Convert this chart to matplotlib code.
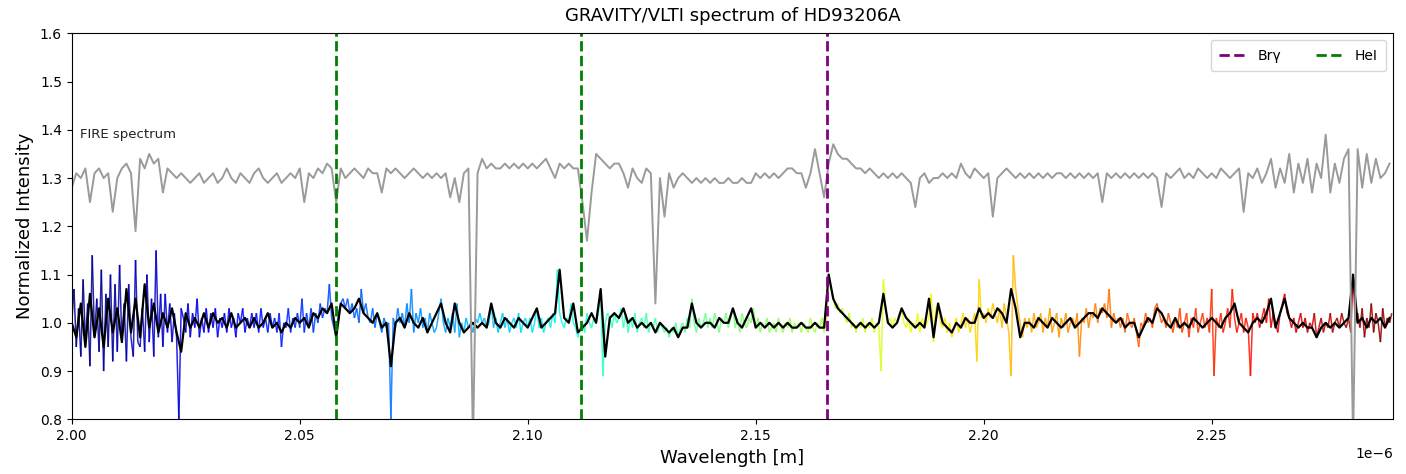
import numpy as np
import matplotlib.pyplot as plt
from matplotlib.collections import LineCollection
from matplotlib.colors import Normalize
from matplotlib.lines import Line2D

# GRAVITY spectrum, raw, one value every 0.5 nm starting at 2.000 um
grav_raw = [
    1.00, 1.07, 0.95, 1.03, 0.93, 1.09, 0.96, 1.04, 0.91, 1.14, 0.97, 1.05, 0.94, 1.11, 0.90, 1.06, 0.95, 1.10, 0.92, 1.08,
    0.94, 1.12, 0.96, 1.04, 0.92, 1.08, 0.97, 0.93, 1.13, 0.96, 0.95, 1.03, 0.94, 1.10, 0.96, 1.05, 0.93, 1.15, 0.97, 1.06,
    0.95, 1.06, 0.98, 1.04, 0.96, 1.02, 0.97, 0.80, 1.03, 1.01, 0.98, 1.04, 0.97, 1.02, 0.99, 1.05, 0.97, 1.01, 0.98, 1.03,
    0.98, 1.02, 0.99, 1.03, 0.97, 1.01, 0.99, 1.02, 0.98, 1.03, 0.99, 1.01, 0.97, 1.02, 1.00, 1.03, 0.98, 1.01, 0.99, 1.02,
    0.99, 1.02, 0.98, 1.03, 0.99, 1.01, 0.98, 1.02, 0.99, 1.01, 0.98, 1.02, 0.95, 1.00, 0.99, 1.03, 0.98, 1.01, 0.99, 1.02,
    0.99, 1.05, 0.98, 1.02, 0.99, 1.03, 0.98, 1.02, 1.00, 1.04, 1.01, 1.03, 1.02, 1.08, 1.01, 0.99, 0.97, 1.02, 1.04, 1.05,
    1.03, 1.05, 1.02, 1.04, 1.01, 1.03, 1.00, 1.07, 1.02, 1.04, 1.01, 1.00, 1.03, 0.99, 1.02, 1.00, 0.98, 1.01, 0.99, 1.00,
    0.80, 1.01, 0.99, 1.03, 1.00, 1.02, 0.99, 1.04, 1.00, 1.07, 0.98, 1.02, 1.00, 1.03, 0.99, 1.01, 0.98, 1.02, 1.00, 0.98,
    0.99, 1.02, 1.05, 1.00, 0.98, 1.01, 0.99, 1.02, 0.98, 1.04, 0.97, 1.00, 0.98, 1.01, 0.99, 1.00, 0.98, 1.01, 1.00, 1.02,
    1.00, 1.01, 0.99, 1.00, 1.04, 0.99, 1.01, 0.98, 1.00, 1.02, 0.99, 1.01, 0.98, 1.00, 1.01, 0.99, 1.02, 0.98, 1.00, 1.01,
    0.99, 1.01, 0.98, 1.00, 1.03, 0.99, 1.01, 0.98, 1.00, 1.01, 0.99, 1.02, 1.00, 1.11, 1.02, 1.00, 0.99, 1.01, 1.00, 1.04,
    1.00, 0.99, 0.97, 0.99, 1.00, 0.98, 1.02, 1.00, 0.99, 1.01, 1.00, 1.02, 1.07, 0.89, 1.00, 1.02, 1.01, 0.99, 1.02, 1.00,
    1.01, 1.03, 0.99, 1.02, 0.98, 1.01, 0.99, 1.02, 0.98, 1.00, 1.01, 0.99, 1.02, 0.98, 1.00, 0.99, 1.01, 0.98, 1.00, 0.99,
    0.98, 0.99, 0.97, 0.99, 0.98, 1.00, 0.97, 0.99, 1.00, 0.98, 1.01, 0.99, 1.05, 1.00, 0.98, 1.01, 0.99, 1.00, 1.02, 0.99,
    1.01, 0.99, 1.02, 1.00, 0.98, 1.01, 1.00, 1.02, 0.99, 1.01, 1.03, 0.99, 1.01, 0.98, 1.02, 1.00, 0.99, 1.01, 1.00, 1.03,
    0.99, 1.01, 0.98, 1.00, 0.99, 1.01, 0.98, 0.99, 1.00, 0.98, 1.01, 0.99, 0.98, 1.00, 0.99, 1.01, 0.98, 1.00, 0.99, 1.00,
    0.98, 1.00, 0.99, 0.98, 1.01, 0.99, 0.98, 1.00, 0.99, 1.01, 0.98, 1.00, 1.10, 1.07, 1.05, 1.03, 1.04, 1.02, 1.03, 1.01,
    1.00, 1.02, 0.99, 1.00, 0.98, 1.00, 0.99, 1.01, 0.98, 1.00, 0.99, 1.01, 0.98, 1.00, 0.99, 0.90, 1.09, 1.03, 1.00, 1.01,
    0.99, 1.01, 1.00, 1.02, 1.03, 1.00, 0.99, 1.01, 0.98, 1.00, 0.99, 1.02, 0.98, 1.01, 0.99, 1.00, 1.01, 1.06, 0.96, 1.03,
    1.04, 1.00, 0.99, 1.01, 0.98, 1.00, 0.97, 0.99, 1.01, 0.98, 1.00, 1.02, 0.99, 1.01, 0.98, 1.00, 1.02, 0.92, 1.09, 1.01,
    1.02, 1.00, 1.03, 1.01, 1.04, 1.02, 1.00, 1.03, 0.99, 1.04, 1.01, 0.98, 0.89, 1.14, 1.07, 1.03, 1.00, 0.97, 1.01, 0.99,
    1.01, 0.98, 1.02, 0.99, 1.00, 1.02, 0.98, 1.01, 0.99, 1.03, 0.98, 1.00, 1.02, 0.97, 1.01, 0.99, 1.02, 0.98, 1.00, 1.01,
    0.99, 1.02, 0.93, 1.01, 1.00, 1.03, 0.99, 1.02, 1.01, 1.04, 1.00, 1.03, 1.02, 1.04, 1.01, 1.07, 0.99, 1.02, 1.00, 1.01,
    0.99, 1.01, 0.98, 1.02, 1.00, 0.99, 1.01, 0.98, 0.95, 1.00, 0.99, 1.02, 1.00, 1.01, 0.99, 1.03, 1.04, 1.02, 1.00, 1.01,
    0.99, 1.02, 1.00, 0.98, 1.01, 0.99, 1.03, 0.98, 1.00, 1.02, 0.97, 1.01, 0.99, 1.03, 0.98, 1.00, 1.02, 0.99, 1.01, 0.98,
    1.07, 0.89, 1.01, 0.99, 1.02, 0.98, 1.00, 1.03, 0.99, 1.07, 1.01, 0.98, 1.00, 1.02, 0.98, 1.01, 0.99, 0.89, 1.02, 1.00,
    1.02, 0.99, 1.01, 1.03, 1.00, 1.05, 0.99, 1.02, 1.00, 0.98, 1.02, 1.04, 1.06, 1.02, 1.01, 0.99, 1.01, 0.98, 1.00, 1.02,
    0.99, 1.01, 0.98, 1.00, 0.99, 1.02, 0.97, 0.99, 1.01, 0.98, 1.00, 0.99, 1.02, 0.98, 1.00, 1.01, 0.99, 1.02, 1.00, 0.99,
    1.01, 0.98, 1.10, 1.00, 1.02, 0.99, 1.03, 0.97, 1.01, 0.99, 1.04, 0.98, 1.02, 1.00, 0.96, 1.03, 0.99, 1.01, 1.00, 1.02,
]

# GRAVITY spectrum, smoothed, one value every 1 nm
grav_smooth = [
    1.00, 0.97, 1.04, 0.95, 1.06, 0.97, 1.03, 0.95, 1.05, 0.98,
    1.03, 0.96, 1.07, 0.98, 1.05, 0.97, 1.08, 0.99, 1.04, 0.98,
    1.02, 0.99, 1.03, 0.98, 0.94, 1.02, 0.99, 1.01, 0.99, 1.02,
    0.99, 1.02, 1.00, 1.01, 0.99, 1.02, 0.99, 1.00, 1.01, 0.99,
    1.01, 0.99, 1.00, 1.02, 0.99, 1.00, 0.98, 1.00, 0.99, 1.01,
    1.00, 1.01, 0.99, 1.02, 1.01, 1.03, 1.02, 1.04, 0.97, 1.04,
    1.03, 1.02, 1.03, 1.05, 1.02, 1.01, 1.00, 1.02, 0.99, 1.00,
    0.91, 1.00, 1.01, 0.99, 1.02, 1.00, 0.99, 1.01, 0.98, 1.00,
    1.02, 1.04, 1.00, 0.98, 1.04, 1.00, 0.98, 0.99, 1.00, 0.99,
    1.00, 0.99, 1.04, 1.00, 0.99, 1.01, 1.00, 0.99, 1.01, 1.00,
    0.99, 1.01, 1.03, 0.99, 1.00, 1.01, 1.02, 1.11, 1.01, 1.00,
    1.04, 0.98, 0.99, 1.00, 1.02, 1.00, 1.07, 0.93, 1.01, 1.02,
    1.01, 1.03, 1.00, 1.01, 0.99, 1.00, 0.99, 1.00, 0.98, 1.00,
    0.99, 0.98, 0.99, 0.97, 0.99, 0.99, 1.04, 1.00, 0.99, 1.00,
    1.00, 0.99, 1.01, 1.00, 1.00, 1.03, 1.00, 0.99, 1.01, 1.03,
    0.99, 1.00, 0.99, 1.00, 0.99, 1.00, 0.99, 1.00, 0.99, 0.99,
    1.00, 0.99, 0.99, 1.00, 0.99, 0.99, 1.10, 1.05, 1.03, 1.02,
    1.01, 1.00, 0.99, 1.00, 0.99, 1.00, 0.99, 1.00, 1.06, 1.00,
    0.99, 1.00, 1.03, 1.01, 1.00, 0.99, 1.00, 0.99, 1.05, 0.97,
    1.04, 1.00, 0.99, 0.98, 1.00, 0.99, 1.01, 1.00, 1.00, 1.03,
    1.01, 1.02, 1.01, 1.03, 1.02, 1.00, 1.07, 1.03, 0.97, 1.00,
    1.00, 0.99, 1.01, 1.00, 0.99, 1.01, 1.00, 0.99, 1.00, 1.01,
    0.99, 1.00, 1.01, 1.02, 1.02, 1.01, 1.03, 1.02, 1.01, 1.00,
    1.01, 0.99, 1.00, 1.00, 0.97, 0.99, 1.01, 1.00, 1.03, 1.02,
    1.00, 0.99, 1.01, 0.99, 1.00, 0.99, 1.01, 1.00, 0.99, 1.00,
    1.01, 1.00, 0.99, 1.01, 1.02, 1.04, 1.00, 0.99, 0.98, 1.00,
    1.01, 1.00, 1.02, 1.05, 0.99, 1.02, 1.05, 1.01, 1.00, 0.99,
    1.00, 0.99, 0.99, 0.97, 0.99, 1.00, 0.99, 1.00, 0.99, 1.00,
    1.01, 1.10, 1.00, 1.01, 0.99, 1.01, 1.00, 1.01, 0.99, 1.01,
]

# FIRE spectrum (already shifted by +0.3), one value every 1 nm
fire = [
    1.28, 1.31, 1.30, 1.32, 1.25, 1.31, 1.32, 1.30, 1.31, 1.23,
    1.30, 1.32, 1.33, 1.31, 1.19, 1.34, 1.32, 1.35, 1.33, 1.34,
    1.27, 1.32, 1.31, 1.30, 1.31, 1.30, 1.29, 1.30, 1.31, 1.29,
    1.30, 1.31, 1.29, 1.30, 1.32, 1.30, 1.29, 1.31, 1.30, 1.29,
    1.31, 1.32, 1.30, 1.29, 1.30, 1.31, 1.29, 1.30, 1.31, 1.30,
    1.32, 1.25, 1.31, 1.30, 1.32, 1.31, 1.33, 1.32, 1.25, 1.32,
    1.30, 1.31, 1.32, 1.31, 1.30, 1.32, 1.31, 1.31, 1.27, 1.32,
    1.31, 1.32, 1.31, 1.30, 1.31, 1.32, 1.31, 1.30, 1.31, 1.30,
    1.31, 1.30, 1.31, 1.26, 1.30, 1.25, 1.31, 1.32, 0.75, 1.31,
    1.34, 1.32, 1.33, 1.32, 1.32, 1.33, 1.32, 1.33, 1.32, 1.33,
    1.32, 1.33, 1.32, 1.33, 1.34, 1.32, 1.30, 1.33, 1.32, 1.33,
    1.32, 1.32, 1.25, 1.17, 1.27, 1.35, 1.34, 1.33, 1.32, 1.33,
    1.33, 1.31, 1.28, 1.32, 1.30, 1.29, 1.32, 1.31, 1.04, 1.30,
    1.22, 1.31, 1.28, 1.30, 1.31, 1.30, 1.29, 1.30, 1.29, 1.30,
    1.29, 1.30, 1.29, 1.29, 1.30, 1.29, 1.29, 1.30, 1.29, 1.29,
    1.31, 1.30, 1.31, 1.30, 1.31, 1.30, 1.31, 1.32, 1.32, 1.31,
    1.31, 1.28, 1.31, 1.36, 1.31, 1.26, 1.33, 1.37, 1.35, 1.34,
    1.34, 1.33, 1.32, 1.32, 1.31, 1.32, 1.31, 1.30, 1.31, 1.30,
    1.31, 1.30, 1.31, 1.30, 1.29, 1.24, 1.30, 1.31, 1.29, 1.30,
    1.30, 1.31, 1.30, 1.31, 1.30, 1.33, 1.31, 1.30, 1.32, 1.31,
    1.30, 1.31, 1.22, 1.30, 1.31, 1.32, 1.31, 1.30, 1.31, 1.30,
    1.31, 1.30, 1.31, 1.30, 1.31, 1.30, 1.31, 1.31, 1.30, 1.31,
    1.30, 1.31, 1.30, 1.31, 1.30, 1.31, 1.25, 1.31, 1.30, 1.31,
    1.30, 1.31, 1.30, 1.31, 1.30, 1.31, 1.30, 1.31, 1.30, 1.24,
    1.31, 1.30, 1.31, 1.32, 1.30, 1.31, 1.30, 1.32, 1.31, 1.30,
    1.31, 1.30, 1.32, 1.31, 1.30, 1.31, 1.32, 1.23, 1.31, 1.30,
    1.32, 1.29, 1.31, 1.34, 1.28, 1.32, 1.29, 1.35, 1.27, 1.33,
    1.29, 1.34, 1.27, 1.33, 1.30, 1.39, 1.27, 1.33, 1.29, 1.34,
    1.36, 0.75, 1.36, 1.28, 1.35, 1.29, 1.34, 1.30, 1.31, 1.33,
]

# line positions (um)
hei_lines = [2.0580, 2.1117]
brg_line = 2.1656

wl_raw = (2.0 + 0.0005 * np.arange(len(grav_raw))) * 1e-6
wl_smooth = (2.0 + 0.001 * np.arange(len(grav_smooth))) * 1e-6
wl_fire = (2.0 + 0.001 * np.arange(len(fire))) * 1e-6

fig = plt.figure(figsize=(14.06, 4.74), dpi=100)
ax = fig.add_axes([0.051, 0.1154, 0.9399, 0.8143])

# raw spectrum coloured along wavelength
pts = np.column_stack([wl_raw, grav_raw]).reshape(-1, 1, 2)
segs = np.concatenate([pts[:-1], pts[1:]], axis=1)
lc = LineCollection(segs, cmap='jet', norm=Normalize(2.0e-6, 2.29e-6), linewidth=1.1, alpha=0.85)
lc.set_array(0.5 * (wl_raw[:-1] + wl_raw[1:]))
ax.add_collection(lc)

ax.plot(wl_smooth, grav_smooth, color='black', lw=1.6)
ax.plot(wl_fire, fire, color='#9a9a9a', lw=1.4)

for w in hei_lines:
    ax.axvline(w * 1e-6, color='green', ls='--', lw=2)
ax.axvline(brg_line * 1e-6, color='purple', ls='--', lw=2)

ax.text(2.0018e-6, 1.383, 'FIRE spectrum', fontsize=9.5, color='#222222')

handles = [Line2D([], [], color='purple', ls='--', lw=2),
           Line2D([], [], color='green', ls='--', lw=2)]
ax.legend(handles, ['Brγ', 'HeI'], loc='upper right', ncol=2, fontsize=10,
          borderpad=0.6, columnspacing=2.5)

ax.set_xlim(2.0e-6, 2.2898e-6)
ax.set_ylim(0.8, 1.6)
ax.set_xticks(np.array([2.00, 2.05, 2.10, 2.15, 2.20, 2.25]) * 1e-6)
ax.set_yticks([0.8, 0.9, 1.0, 1.1, 1.2, 1.3, 1.4, 1.5, 1.6])
ax.set_title('GRAVITY/VLTI spectrum of HD93206A', fontsize=13, pad=9)
ax.set_xlabel('Wavelength [m]', fontsize=13)
ax.set_ylabel('Normalized Intensity', fontsize=13)

fig.savefig('out.png', dpi=100)
